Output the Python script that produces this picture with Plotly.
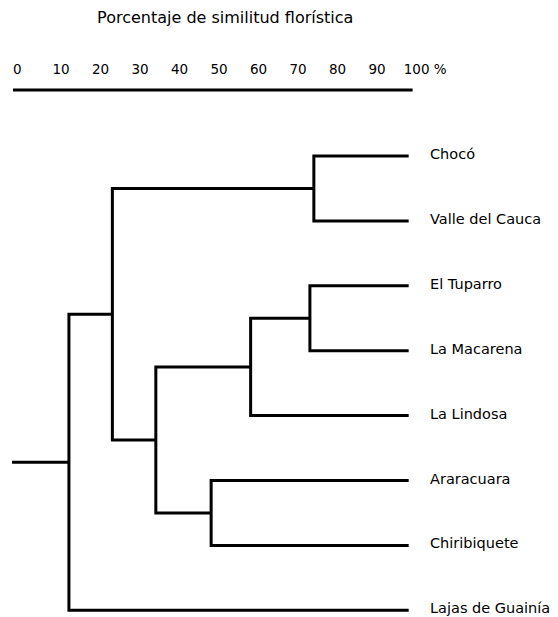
import plotly.graph_objects as go

# ---------------- data ----------------
leaves = ["Chocó", "Valle del Cauca", "El Tuparro", "La Macarena",
          "La Lindosa", "Araracuara", "Chiribiquete", "Lajas de Guainía"]
# merges: (left child, right child, similarity %). Children: leaf index (int) or merge id ("m0"...)
merge_left = [0, 2, "m1", 5, "m2", "m0", "m5"]
merge_right = [1, 3, 4, 6, "m3", "m4", 7]
merge_sim = [74, 73, 58, 48, 34, 23, 12]
leaf_level = 98          # where leaf branches end
root_start = -2.4        # left end of the root stub
tick_vals = [0, 10, 20, 30, 40, 50, 60, 70, 80, 90, 100]
tick_text = ["0\u00a0\u00a0", "10", "20", "30", "40", "50", "60", "70", "80", "90",
             "\u00a0\u00a0\u00a0\u00a0100 %"]
title_text = "Porcentaje de similitud florística"

# ---------------- build dendrogram segments ----------------
nodes = {}  # id -> (x, y)
for i, _ in enumerate(leaves):
    nodes[i] = (leaf_level, i)

xs, ys = [], []
for k, (a, b, s) in enumerate(zip(merge_left, merge_right, merge_sim)):
    xa, ya = nodes[a]
    xb, yb = nodes[b]
    xs += [xa, s, s, xb, None]
    ys += [ya, ya, yb, yb, None]
    nodes["m%d" % k] = (s, (ya + yb) / 2)

root_x, root_y = nodes["m%d" % (len(merge_sim) - 1)]
xs += [root_x, root_start, None]
ys += [root_y, root_y, None]

fig = go.Figure()
fig.add_trace(go.Scatter(x=xs, y=ys, mode="lines",
                         line=dict(color="black", width=3),
                         hoverinfo="skip", showlegend=False))

FONT = "DejaVu Sans"
for i, name in enumerate(leaves):
    fig.add_annotation(x=leaf_level, y=i, text=name, showarrow=False,
                       xanchor="left", yanchor="middle", xshift=19, yshift=2,
                       font=dict(family=FONT, size=14.5, color="black"))

# thick scale line under the tick labels
fig.add_shape(type="line", xref="x", yref="paper",
              x0=root_start + 0.25, x1=leaf_level + 1, y0=0.985, y1=0.985,
              line=dict(color="black", width=3))

fig.update_layout(
    width=550, height=609,
    margin=dict(l=0, r=0, t=74, b=0),
    paper_bgcolor="white", plot_bgcolor="white",
    title=dict(text=title_text, x=0.395, xanchor="center",
               y=0.984, yanchor="middle", yref="container",
               font=dict(family=FONT, size=16, color="black")),
    xaxis=dict(range=[-3.42, 135.8], side="top", tickvals=tick_vals,
               ticktext=tick_text, tickangle=0, showgrid=False,
               zeroline=False, showline=False, ticks="",
               ticklabelstandoff=4,
               tickfont=dict(family=FONT, size=13.5, color="black")),
    yaxis=dict(range=[7.103, -1.140], visible=False, showgrid=False,
               zeroline=False),
)

fig.write_html("out.html")
